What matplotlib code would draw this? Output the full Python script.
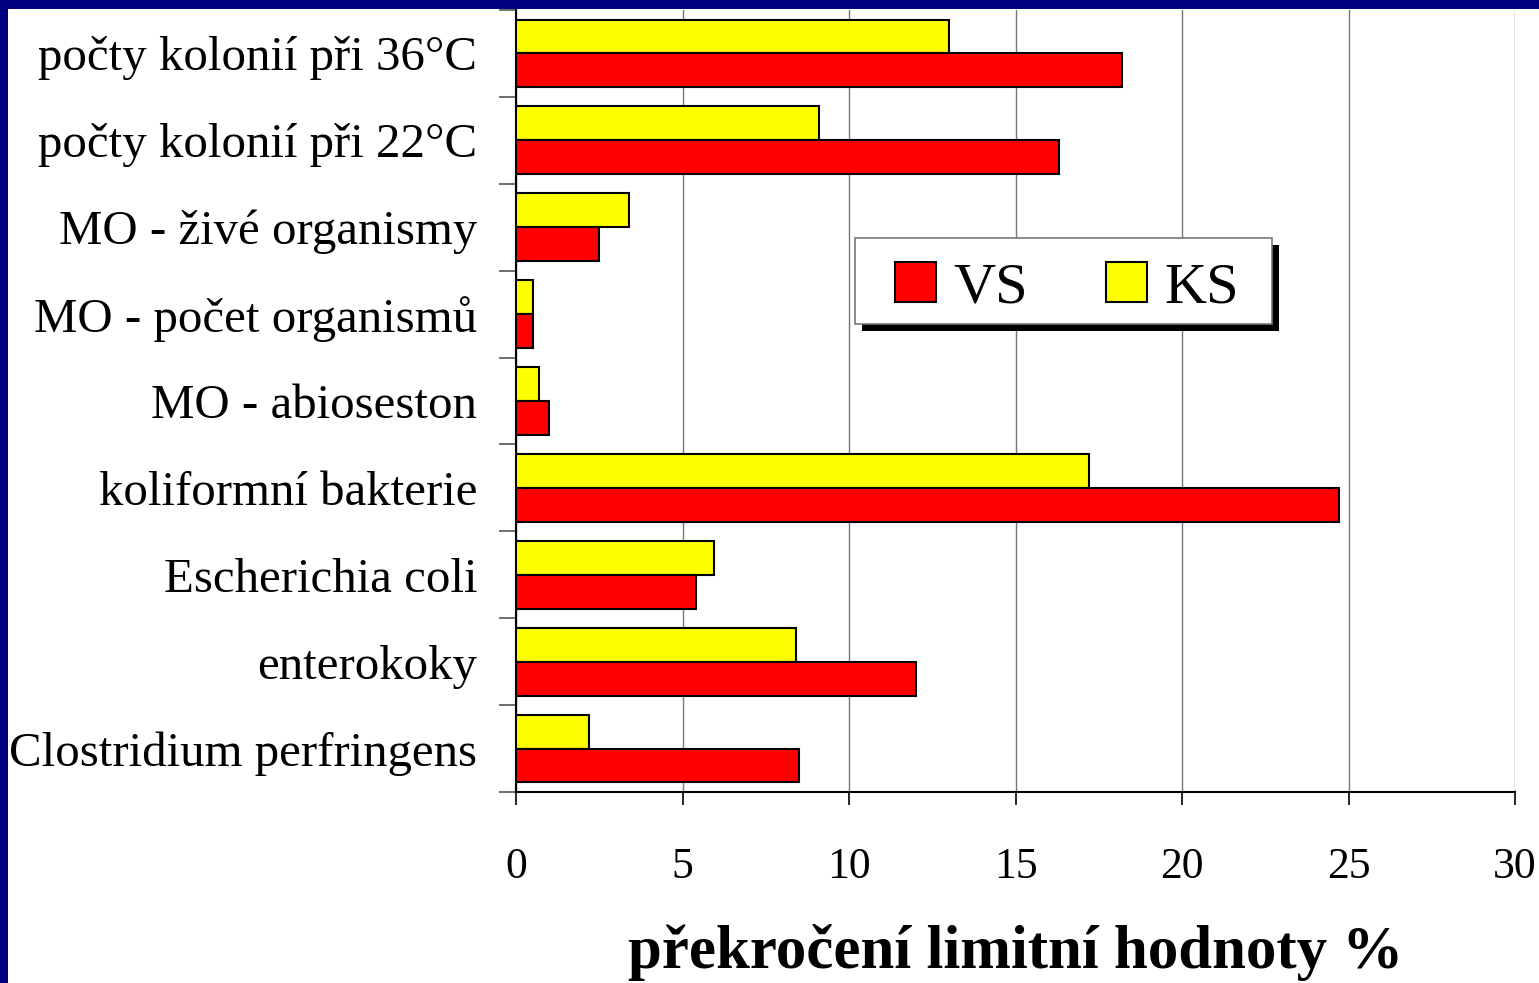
import matplotlib
matplotlib.use("Agg")
import matplotlib.pyplot as plt
from matplotlib.patches import Rectangle, Patch
import numpy as np

categories = [
    "počty kolonií při 36°C",
    "počty kolonií při 22°C",
    "MO - živé organismy",
    "MO - počet organismů",
    "MO - abioseston",
    "koliformní bakterie",
    "Escherichia coli",
    "enterokoky",
    "Clostridium perfringens",
]
vs_values = [18.2, 16.3, 2.5, 0.5, 1.0, 24.7, 5.4, 12.0, 8.5]
ks_values = [13.0, 9.1, 3.4, 0.5, 0.7, 17.2, 5.95, 8.4, 2.2]
xticks = [0, 5, 10, 15, 20, 25, 30]
xlabel = "překročení limitní hodnoty %"
series_names = ["VS", "KS"]

plt.rcParams['font.family'] = ['Liberation Serif', 'DejaVu Serif']

fig = plt.figure(figsize=(15.39, 9.83), dpi=100)
fig.patch.set_facecolor('white')
ax = fig.add_axes([516/1539, 1-792/983, (1515-516)/1539, (792-10)/983])

y = np.arange(len(categories))
h = 0.39
ax.barh(y - h/2, ks_values, height=h, color='#ffff00', edgecolor='black', linewidth=1.5, zorder=3)
ax.barh(y + h/2, vs_values, height=h, color='#ff0000', edgecolor='black', linewidth=1.5, zorder=3)

ax.set_xlim(0, 30)
ax.set_ylim(len(categories) - 0.5, -0.5)
ax.set_xticks(xticks)
ax.set_xticklabels([str(t) for t in xticks], fontsize=31.5)
ax.set_yticks(y)
ax.set_yticklabels(categories, fontsize=35.2)
ax.set_yticks(np.arange(len(categories) + 1) - 0.5, minor=True)
ax.tick_params(axis='y', which='major', length=0, pad=28)
ax.tick_params(axis='y', which='minor', length=12, width=1.2, color='#555555')
ax.tick_params(axis='x', which='major', length=9.5, width=1.2, pad=30, color='black')

ax.grid(axis='x', color='#777777', linewidth=1.0, zorder=0)
for s in ['top', 'right']:
    ax.spines[s].set_visible(False)
ax.spines['left'].set_linewidth(1.5)
ax.spines['bottom'].set_linewidth(1.5)

ax.set_xlabel(xlabel, fontsize=43.8, fontweight='bold', va='baseline')
ax.xaxis.set_label_coords(0.5, (792-968)/782)


def ax_x(px):
    return (px - 516) / 999


def ax_y(py):
    return (792 - py) / 782


# legend frame with hard black shadow
bx0, bx1, by0, by1 = 855, 1272, 238, 324
off = 7
ax.add_patch(Rectangle((ax_x(bx0 + off), ax_y(by1 + off)), ax_x(bx1) - ax_x(bx0), ax_y(by0) - ax_y(by1),
                       transform=ax.transAxes, facecolor='black', edgecolor='none', zorder=6, clip_on=False))
ax.add_patch(Rectangle((ax_x(bx0), ax_y(by1)), ax_x(bx1) - ax_x(bx0), ax_y(by0) - ax_y(by1),
                       transform=ax.transAxes, facecolor='white', edgecolor='#777777', linewidth=1.2,
                       zorder=7, clip_on=False))

handles = [Patch(facecolor='#ff0000', edgecolor='black', linewidth=1.5),
           Patch(facecolor='#ffff00', edgecolor='black', linewidth=1.5)]
leg = ax.legend(handles, series_names, loc='center', bbox_to_anchor=(ax_x(1067), ax_y(288)),
                borderaxespad=0, ncol=2, fontsize=42, frameon=False,
                handlelength=0.69, handleheight=0.69, handletextpad=0.3,
                columnspacing=1.35, borderpad=0)
leg.set_zorder(8)

# navy border on top and left
fig.patches.append(Rectangle((0, 0), 8/1539, 1, transform=fig.transFigure,
                             facecolor='#000080', edgecolor='none', zorder=10))
fig.patches.append(Rectangle((0, 1-9/983), 1, 9/983, transform=fig.transFigure,
                             facecolor='#000080', edgecolor='none', zorder=10))

fig.savefig('out.png', dpi=100)
